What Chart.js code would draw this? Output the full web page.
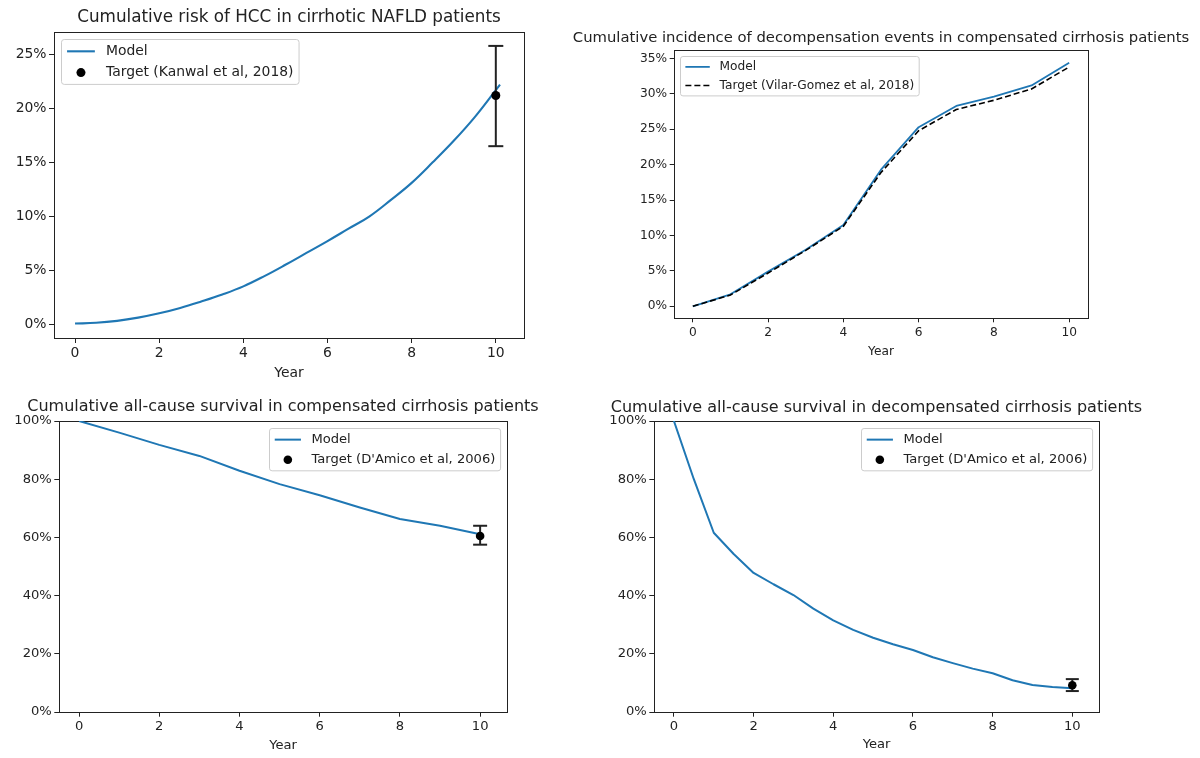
<!DOCTYPE html>
<html>
<head>
<meta charset="utf-8">
<script src="https://cdn.jsdelivr.net/npm/chart.js@4.4.1/dist/chart.umd.min.js"></script>
<style>
  html, body { margin: 0; padding: 0; background: #fff; }
  body { width: 1200px; height: 758px; position: relative; overflow: hidden; }
  .panel { position: absolute; }
  .panel canvas { display: block; }
</style>
</head>
<body>
<div class="panel" id="p1"><canvas id="c1"></canvas></div>
<div class="panel" id="p2"><canvas id="c2"></canvas></div>
<div class="panel" id="p3"><canvas id="c3"></canvas></div>
<div class="panel" id="p4"><canvas id="c4"></canvas></div>
<script>
// ---------- data ----------
const years = [0, 1, 2, 3, 4, 5, 6, 7, 8, 9, 10];
const halfYears = [0, 0.5, 1, 1.5, 2, 2.5, 3, 3.5, 4, 4.5, 5, 5.5, 6, 6.5, 7, 7.5, 8, 8.5, 9, 9.5, 10];

// Cumulative HCC risk (%), cirrhotic NAFLD
const hccYears = [0, 0.5, 1, 1.5, 2, 2.5, 3, 3.5, 4, 4.5, 5, 5.5, 6, 6.5, 7, 7.5, 8, 8.5, 9, 9.5, 10, 10.1];
const hccModel = [0.05, 0.12, 0.3, 0.6, 1.0, 1.5, 2.1, 2.75, 3.5, 4.45, 5.5, 6.6, 7.7, 8.85, 10.0, 11.5, 13.1, 15.0, 17.0, 19.2, 21.7, 22.2];
const hccTargetYear = [10];
const hccTargetValue = [21.2];
const hccTargetLow = [16.5];
const hccTargetHigh = [25.8];

// Cumulative incidence of decompensation (%), compensated cirrhosis
const decompModel = [0, 1.7, 4.9, 8.0, 11.5, 19.3, 25.3, 28.3, 29.6, 31.2, 34.4];
const decompTarget = [0, 1.6, 4.7, 7.9, 11.3, 18.9, 24.8, 27.8, 29.1, 30.7, 33.8];

// All-cause survival (%), compensated cirrhosis
const compSurvModel = [100, 96.0, 91.8, 88.0, 82.9, 78.3, 74.5, 70.3, 66.3, 64.0, 61.1];
const compSurvTargetYear = [10];
const compSurvTargetValue = [60.5];
const compSurvTargetLow = [57.5];
const compSurvTargetHigh = [64.0];

// All-cause survival (%), decompensated cirrhosis
const decompSurvModel = [100, 80.0, 61.6, 54.3, 47.8, 43.9, 40.2, 35.5, 31.5, 28.2, 25.5, 23.3, 21.3, 18.8, 16.8, 14.9, 13.3, 10.9, 9.3, 8.6, 8.2];
const decompSurvTargetYear = [10];
const decompSurvTargetValue = [9.2];
const decompSurvTargetLow = [7.2];
const decompSurvTargetHigh = [11.3];

// Tick values
const yearTicks = [0, 2, 4, 6, 8, 10];
const hccTicks = [0, 5, 10, 15, 20, 25];
const decompTicks = [0, 5, 10, 15, 20, 25, 30, 35];
const survivalTicks = [0, 20, 40, 60, 80, 100];

// Text
const titles = [
  'Cumulative risk of HCC in cirrhotic NAFLD patients',
  'Cumulative incidence of decompensation events in compensated cirrhosis patients',
  'Cumulative all-cause survival in compensated cirrhosis patients',
  'Cumulative all-cause survival in decompensated cirrhosis patients'
];
const modelLabel = 'Model';
const targetLabels = [
  'Target (Kanwal et al, 2018)',
  'Target (Vilar-Gomez et al, 2018)',
  "Target (D'Amico et al, 2006)",
  "Target (D'Amico et al, 2006)"
];
const xAxisLabel = 'Year';

// ---------- styling ----------
const BLUE = '#1f77b4';
const INK = '#222222';
const FONT = "'DejaVu Sans', sans-serif";
Chart.defaults.font.family = FONT;
Chart.defaults.color = INK;

const pairs = (xs, ys) => xs.map((x, i) => ({ x: x, y: ys[i] }));

// matplotlib-like legend drawn inside the plot area
const boxLegend = {
  id: 'boxLegend',
  afterDatasetsDraw(chart, args, opts) {
    const ctx = chart.ctx;
    const a = chart.chartArea;
    const em = opts.fontSize;
    const items = chart.data.datasets.filter(d => d.label);
    ctx.save();
    ctx.font = em + 'px ' + FONT;
    const textW = Math.max(...items.map(d => ctx.measureText(d.label).width));
    const rowH = 1.53 * em;
    const edge = 0.85 * em;
    const w = 3.6 * em + textW;
    const h = 2 * edge + rowH * (items.length - 1);
    const x0 = Math.round(opts.corner === 'ul' ? a.left + 0.5 * em : a.right - 0.5 * em - w) + 0.5;
    const y0 = Math.round(a.top + 0.5 * em) + 0.5;
    const r = 0.2 * em;
    ctx.beginPath();
    ctx.moveTo(x0 + r, y0);
    ctx.lineTo(x0 + w - r, y0);
    ctx.arcTo(x0 + w, y0, x0 + w, y0 + r, r);
    ctx.lineTo(x0 + w, y0 + h - r);
    ctx.arcTo(x0 + w, y0 + h, x0 + w - r, y0 + h, r);
    ctx.lineTo(x0 + r, y0 + h);
    ctx.arcTo(x0, y0 + h, x0, y0 + h - r, r);
    ctx.lineTo(x0, y0 + r);
    ctx.arcTo(x0, y0, x0 + r, y0, r);
    ctx.closePath();
    ctx.fillStyle = 'rgba(255,255,255,0.8)';
    ctx.fill();
    ctx.strokeStyle = '#cccccc';
    ctx.lineWidth = 1;
    ctx.stroke();
    items.forEach((d, i) => {
      const cy = y0 + edge + i * rowH;
      const hx = x0 + 0.4 * em;
      if (d.showLine === false) {
        ctx.beginPath();
        ctx.arc(hx + em, cy, d.pointRadius, 0, Math.PI * 2);
        ctx.fillStyle = d.pointBackgroundColor;
        ctx.fill();
      } else {
        ctx.beginPath();
        ctx.setLineDash(d.borderDash || []);
        ctx.moveTo(hx, cy);
        ctx.lineTo(hx + 2 * em, cy);
        ctx.strokeStyle = d.borderColor;
        ctx.lineWidth = d.borderWidth;
        ctx.stroke();
        ctx.setLineDash([]);
      }
      ctx.fillStyle = INK;
      ctx.textBaseline = 'middle';
      ctx.textAlign = 'left';
      ctx.fillText(d.label, hx + 2.8 * em, cy);
    });
    ctx.restore();
  }
};

function modelSet(xs, ys, lw, tension) {
  return { label: modelLabel, data: pairs(xs, ys), borderColor: BLUE, backgroundColor: BLUE,
    borderWidth: lw, pointRadius: 0, tension: tension, borderJoinStyle: 'round', order: 3 };
}
function targetDot(label, xs, ys, r) {
  return { label: label, data: pairs(xs, ys), showLine: false, pointRadius: r,
    pointBackgroundColor: '#000', pointBorderColor: '#000', pointBorderWidth: 0, order: 1 };
}
function errorBar(xs, lows, highs, cap, lw) {
  return { data: [{ x: xs[0], y: lows[0] }, { x: xs[0], y: highs[0] }], borderColor: INK,
    borderWidth: lw, pointStyle: 'line', pointRadius: cap, pointBorderColor: INK,
    pointBorderWidth: lw, order: 2 };
}

function panelChart(n, s) {
  const tlh = s.titleSize * 1.2;
  const top = Math.floor(s.titleMid - tlh / 2 - 2);
  const padTop = s.titleMid - tlh / 2 - top;
  const padBottom = s.box.t - top - padTop - tlh;
  const height = Math.round(s.yearMid + s.tickSize * 0.6) - top;
  const bottomH = height - (s.box.b - top);
  const left = s.box.l - s.side;
  const width = s.box.r - s.box.l + 2 * s.side;
  const wrap = document.getElementById('p' + n);
  wrap.style.left = left + 'px';
  wrap.style.top = top + 'px';
  const cv = document.getElementById('c' + n);
  cv.width = width; cv.height = height;
  cv.style.width = width + 'px'; cv.style.height = height + 'px';

  const tickFont = { size: s.tickSize, family: FONT };
  const gridOpts = { drawOnChartArea: false, drawTicks: true, tickLength: s.tickLen, color: INK, lineWidth: 1 };
  const borderOpts = { display: true, color: INK, width: 1 };

  return new Chart(cv, {
    type: 'line',
    data: { datasets: s.datasets },
    plugins: [boxLegend],
    options: {
      responsive: false,
      animation: false,
      events: [],
      layout: { padding: 0 },
      plugins: {
        legend: { display: false },
        tooltip: { enabled: false },
        title: { display: true, text: s.title, color: INK,
          font: { size: s.titleSize, weight: 'normal', family: FONT, lineHeight: 1.2 },
          padding: { top: padTop, bottom: padBottom } },
        boxLegend: { corner: s.corner, fontSize: s.tickSize }
      },
      scales: {
        x: { type: 'linear', position: 'bottom', min: s.xRange[0], max: s.xRange[1],
          afterBuildTicks: sc => { sc.ticks = yearTicks.map(v => ({ value: v })); },
          afterFit: sc => { sc.height = bottomH; },
          ticks: { font: tickFont, color: INK, padding: s.padX, maxRotation: 0, autoSkip: false,
            callback: v => String(v) },
          grid: gridOpts, border: borderOpts,
          title: { display: true, text: xAxisLabel, color: INK, font: { size: s.tickSize, family: FONT, lineHeight: 1.2 },
            padding: { top: 0, bottom: 0 } } },
        y: { type: 'linear', position: 'left', min: s.yRange[0], max: s.yRange[1],
          afterBuildTicks: sc => { sc.ticks = s.yTicks.map(v => ({ value: v })); },
          afterFit: sc => { sc.width = s.side; },
          ticks: { font: tickFont, color: INK, padding: s.padY, autoSkip: false, callback: v => v + '%' },
          grid: gridOpts, border: borderOpts },
        xTop: { type: 'linear', position: 'top', display: true,
          afterFit: sc => { sc.height = 0; },
          ticks: { display: false }, grid: { display: false, drawTicks: false }, border: borderOpts },
        yRight: { type: 'linear', position: 'right', display: true,
          afterFit: sc => { sc.width = s.side; },
          ticks: { display: false }, grid: { display: false, drawTicks: false }, border: borderOpts }
      }
    }
  });
}

// Panel 1: HCC risk
panelChart(1, {
  box: { l: 54, t: 32, r: 524, b: 338 }, side: 54,
  title: titles[0], titleMid: 17.5, titleSize: 16.8, tickSize: 13.9, yearMid: 373.6,
  tickLen: 5, padX: 2.3, padY: 2.5,
  xRange: [-0.5, 10.67], yRange: [-1.29, 27.09], yTicks: hccTicks, corner: 'ul',
  datasets: [
    modelSet(hccYears, hccModel, 2.1, 0.4),
    errorBar(hccTargetYear, hccTargetLow, hccTargetHigh, 7.5, 2),
    targetDot(targetLabels[0], hccTargetYear, hccTargetValue, 4.5)
  ]
});

// Panel 2: decompensation incidence
panelChart(2, {
  box: { l: 674, t: 50, r: 1088, b: 318 }, side: 108,
  title: titles[1], titleMid: 38.6, titleSize: 14.8, tickSize: 12.2, yearMid: 351.4,
  tickLen: 4.3, padX: 3.2, padY: 2.5,
  xRange: [-0.5, 10.5], yRange: [-1.65, 36.2], yTicks: decompTicks, corner: 'ul',
  datasets: [
    modelSet(years, decompModel, 1.8, 0),
    { label: targetLabels[1], data: pairs(years, decompTarget), borderColor: '#000', backgroundColor: '#000',
      borderWidth: 1.6, borderDash: [6, 3], pointRadius: 0, tension: 0, order: 2 }
  ]
});

// Panel 3: compensated survival
panelChart(3, {
  box: { l: 59, t: 421, r: 507, b: 712 }, side: 59,
  title: titles[2], titleMid: 407.2, titleSize: 16, tickSize: 13.1, yearMid: 745,
  tickLen: 4.7, padX: 2.1, padY: 2.5,
  xRange: [-0.5, 10.67], yRange: [0, 100], yTicks: survivalTicks, corner: 'ur',
  datasets: [
    modelSet(years, compSurvModel, 2, 0),
    errorBar(compSurvTargetYear, compSurvTargetLow, compSurvTargetHigh, 7, 2),
    targetDot(targetLabels[2], compSurvTargetYear, compSurvTargetValue, 4.3)
  ]
});

// Panel 4: decompensated survival
panelChart(4, {
  box: { l: 654, t: 421, r: 1099, b: 712 }, side: 50,
  title: titles[3], titleMid: 407.8, titleSize: 16, tickSize: 13.1, yearMid: 744.4,
  tickLen: 4.7, padX: 2.1, padY: 2.5,
  xRange: [-0.5, 10.67], yRange: [0, 100], yTicks: survivalTicks, corner: 'ur',
  datasets: [
    modelSet(halfYears, decompSurvModel, 2, 0),
    errorBar(decompSurvTargetYear, decompSurvTargetLow, decompSurvTargetHigh, 6.5, 2),
    targetDot(targetLabels[3], decompSurvTargetYear, decompSurvTargetValue, 4.3)
  ]
});
</script>
</body>
</html>
